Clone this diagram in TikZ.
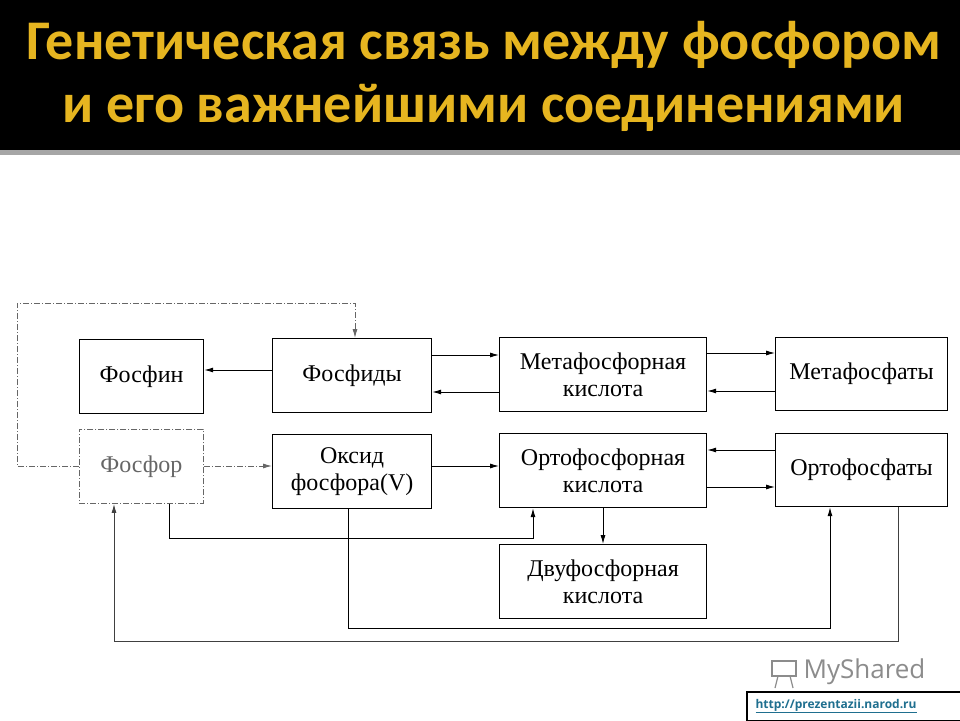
\documentclass[tikz,border=0pt]{standalone}
\usepackage{fontspec}
\setmainfont{Liberation Serif}
\newfontfamily\titlefont{Carlito}
\newfontfamily\wmfont{Open Sans}
\usetikzlibrary{arrows.meta}
\definecolor{gold}{HTML}{E6B520}
\definecolor{linkc}{HTML}{1F6F8F}
\tikzset{
 bx/.style={draw, line width=1.2pt, inner sep=0pt},
 ar/.style={-{Latex[length=9pt,width=5pt]}, line width=0.9pt},
 dsh/.style={dash pattern=on 6pt off 2pt on 1pt off 2pt, draw=black!60},
 tx/.style={font=\fontsize{24}{27}\selectfont, align=center},
 ttl/.style={font=\titlefont\bfseries\fontsize{56}{60}\selectfont, text=gold}
}
\newcommand{\bxat}[6]{\node[bx,minimum width=#4-#2,minimum height=#5-#3,anchor=north west,#6] (#1) at (#2,#3) {};}
\begin{document}
\begin{tikzpicture}[x=1pt,y=-1pt]
\useasboundingbox (0,0) rectangle (960,720);
\fill[black] (0,0) rectangle (960,150);
\fill[black!35] (0,150) rectangle (960,155);
\node[ttl] (t1) at (484,45) {Генетическая связь между фосфором};
\node[ttl] (t2) at (484,108) {и его важнейшими соединениями};
% boxes
\bxat{fosfin}{79}{339}{203}{413}{}
\bxat{fosfidy}{272}{338}{431}{412}{}
\bxat{meta}{499}{337}{706}{411}{}
\bxat{metaf}{775}{337}{947}{410}{}
\bxat{fosfor}{79}{429}{203}{503}{dsh,line width=0.9pt}
\bxat{oksid}{272}{434}{431}{508}{}
\bxat{orto}{499}{433}{706}{507}{}
\bxat{ortof}{775}{433}{947}{506}{}
\bxat{dvu}{499}{544}{706}{618}{}
\node[tx] at (fosfin) {Фосфин};
\node[tx] at (fosfidy) {Фосфиды};
\node[tx] at (meta) {Метафосфорная\\кислота};
\node[tx] at (metaf) {Метафосфаты};
\node[tx,text=black!60] at (fosfor) {Фосфор};
\node[tx] at (oksid) {Оксид\\фосфора(V)};
\node[tx] at (orto) {Ортофосфорная\\кислота};
\node[tx] at (ortof) {Ортофосфаты};
\node[tx] at (dvu) {Двуфосфорная\\кислота};
% arrows
\draw[ar] (fosfidy.west |- 0,370) -- (fosfin.east |- 0,370);
\draw[ar] (fosfidy.east |- 0,355) -- (meta.west |- 0,355);
\draw[ar] (meta.west |- 0,392) -- (fosfidy.east |- 0,392);
\draw[ar] (meta.east |- 0,353) -- (metaf.west |- 0,353);
\draw[ar] (metaf.west |- 0,391) -- (meta.east |- 0,391);
\draw[ar,dsh] (fosfor.east |- 0,466) -- (oksid.west |- 0,466);
\draw[ar] (oksid.east |- 0,466) -- (orto.west |- 0,466);
\draw[ar] (ortof.west |- 0,450) -- (orto.east |- 0,450);
\draw[ar] (orto.east |- 0,487) -- (ortof.west |- 0,487);
\draw[ar] (orto.south -| 603,0) -- (dvu.north -| 603,0);
\draw[ar] (fosfor.south -| 169,0) -- (169,538) -- (533,538) -- (orto.south -| 533,0);
\draw[ar] (oksid.south -| 348,0) -- (348,628) -- (830,628) -- (ortof.south -| 830,0);
\draw[ar,draw=black!75] (ortof.south -| 898,0) -- (898,641) -- (114,641) -- (fosfor.south -| 114,0);
\draw[ar,dsh] (fosfor.west |- 0,466) -- (17,466) -- (17,303) -- (355,303) -- (fosfidy.north -| 355,0);
% watermark
\node[font=\wmfont\fontsize{26}{28}\selectfont, text=black!45, anchor=west] (wm) at (800,672) {MyShared};
\draw[black!45, line width=1.5pt] (772,661) rectangle (796,676);
\draw[black!45, line width=1.2pt] (778,676) -- (775,688) (790,676) -- (793,688);
\node[draw=black, line width=1.5pt, fill=white, minimum width=214, minimum height=29, anchor=north west] (lk) at (746,691) {};
\node[font=\wmfont\bfseries\fontsize{12}{14}\selectfont, text=linkc, anchor=west] at (752,706) {\underline{http://prezentazii.narod.ru}};
\end{tikzpicture}
\end{document}
